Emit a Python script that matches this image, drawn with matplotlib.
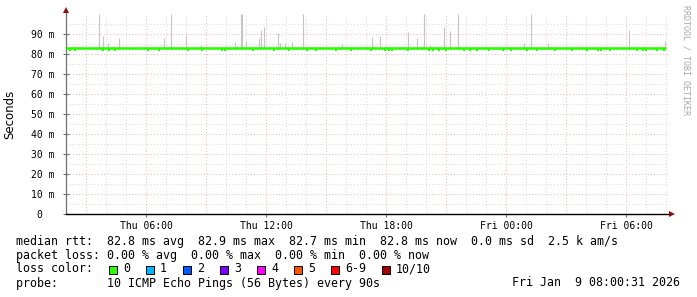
import matplotlib
matplotlib.use('Agg')
import matplotlib.pyplot as plt
from matplotlib.patches import Rectangle

# time axis: hours since Thu 02:00, window of 30 hours
start_hour = 0
end_hour = 30

# median rtt (ms)
median_rtt = 82.8

# slightly lower median samples (hours)
dip_hours = [0.2, 0.47, 1.87, 2.17, 2.47, 4.08, 4.67, 6.08, 6.78, 7.82, 7.97, 9.37,
             10.42, 11.13, 12.03, 12.48, 13.52, 14.23, 15.25, 15.95, 16.15, 16.28,
             17.12, 18.17, 18.37, 18.67, 19.0, 19.9, 20.22, 20.53, 21.17, 21.83,
             22.23, 23.07, 23.53, 24.45, 25.32, 26.03, 26.58, 26.73, 27.2, 28.57,
             28.83, 28.98, 29.53, 29.9]
dip_rtt = 82.2

# smoke: max ping per interval (ms)
spike_hours = [1.67, 1.87, 2.12, 2.67, 4.92, 5.27, 6.0, 6.75, 8.43, 8.75, 8.8,
               8.98, 9.65, 9.75, 9.9, 10.6, 10.7, 10.97, 11.32, 11.85, 13.78,
               15.32, 15.7, 16.83, 17.12, 17.57, 17.92, 18.2, 18.53, 18.9, 19.2,
               19.62, 22.92, 23.27, 24.08, 25.62, 28.17, 28.83, 29.95]
spike_tops = [100, 89, 85.5, 88, 88, 100, 89.5, 84.5, 86, 100, 100,
              86.5, 88, 92, 93.5, 90.5, 85.5, 85.5, 86, 100, 85,
              88.5, 89, 84, 91, 88, 100, 84.5, 84, 93.5, 91.5,
              100, 85.5, 100, 85.5, 84, 92, 84, 86.5]

x_tick_hours = [4, 10, 16, 22, 28]
x_tick_labels = ['Thu 06:00', 'Thu 12:00', 'Thu 18:00', 'Fri 00:00', 'Fri 06:00']
y_ticks = [0, 10, 20, 30, 40, 50, 60, 70, 80, 90]
y_tick_labels = ['0  ', '10 m', '20 m', '30 m', '40 m', '50 m', '60 m', '70 m', '80 m', '90 m']

loss_labels = ['0', '1', '2', '3', '4', '5', '6-9', '10/10']
loss_colors = ['#26ff00', '#00b8ff', '#0059ff', '#7e00ff', '#ff00ff', '#ff5500', '#ff0000', '#a10000']

W, H = 697, 297
fig = plt.figure(figsize=(W / 100, H / 100), dpi=100)
fig.patch.set_facecolor('white')


def fx(px):
    return px / W


def fy(py):
    return 1 - py / H


ax = fig.add_axes([fx(66), fy(214), 602 / W, 200 / H])
ax.set_xlim(start_hour, 30.1)
ax.set_ylim(0, 100)

# grid
grid_gray = '#dadada'
grid_red = '#efbcbc'
for h in range(start_hour + 1, end_hour + 1):
    c = grid_red if (h - 1) % 3 == 0 else grid_gray
    ax.axvline(h, color=c, lw=0.75, ls=(0, (1, 2)), zorder=1)
for v in range(5, 100, 5):
    c = grid_red if v % 10 == 0 else grid_gray
    ax.axhline(v, color=c, lw=0.75, ls=(0, (1, 2)), zorder=1)

# smoke
ax.vlines(spike_hours, median_rtt - 0.3, spike_tops, color='#c4c4c4', lw=0.8, zorder=2)

# median line
ax.plot([start_hour, end_hour], [median_rtt, median_rtt], color=loss_colors[0], lw=1.9,
        solid_capstyle='butt', zorder=3)
ax.plot(dip_hours, [dip_rtt] * len(dip_hours), 's', ms=1.5, mew=0, color=loss_colors[0], zorder=3)

# axes styling
for s in ['top', 'right']:
    ax.spines[s].set_visible(False)
ax.spines['left'].set_color('#707070')
ax.spines['left'].set_linewidth(0.9)
ax.spines['bottom'].set_color('black')
ax.spines['bottom'].set_linewidth(1.0)
ax.plot([0, 0], [1.0, 1.02], color='#707070', lw=0.9, transform=ax.transAxes, clip_on=False)
ax.plot(0, 1.02, marker='^', ms=4.5, color='#8b1010', mew=0, transform=ax.transAxes, clip_on=False)
ax.plot(1.007, 0, marker='>', ms=4.5, color='#8b1010', mew=0, transform=ax.transAxes, clip_on=False)

mono = 'DejaVu Sans Mono'
ax.set_yticks(y_ticks)
ax.set_yticklabels(y_tick_labels, family=mono, fontsize=7)
ax.set_xticks(x_tick_hours)
ax.set_xticklabels(x_tick_labels, family=mono, fontsize=7)
ax.tick_params(axis='y', direction='inout', length=4, width=0.8, color='#707070', pad=6)
ax.tick_params(axis='x', direction='out', length=2, width=0.8, color='#707070', pad=3)

fig.text(fx(10), fy(114), 'Seconds', rotation=90, ha='center', va='center',
         fontsize=8.5, family='DejaVu Sans')
fig.text(fx(686), fy(5), 'RRDTOOL / TOBI OETIKER', rotation=270, ha='center', va='top',
         fontsize=6, family=mono, color='#a8a8a8')

fs = 8.4
fig.text(fx(16), fy(241), 'median rtt:  82.8 ms avg  82.9 ms max  82.7 ms min  82.8 ms now  0.0 ms sd  2.5 k am/s',
         family=mono, fontsize=fs, va='center')
fig.text(fx(16), fy(255), 'packet loss: 0.00 % avg  0.00 % max  0.00 % min  0.00 % now',
         family=mono, fontsize=fs, va='center')
fig.text(fx(16), fy(269), 'loss color:', family=mono, fontsize=fs, va='center')
fig.text(fx(16), fy(283), 'probe:       10 ICMP Echo Pings (56 Bytes) every 90s',
         family=mono, fontsize=fs, va='center')
fig.text(fx(680), fy(283), 'Fri Jan  9 08:00:31 2026', family=mono, fontsize=fs, va='center', ha='right')

# loss colour legend
cur = 108.5
for lab, col in zip(loss_labels, loss_colors):
    fig.patches.append(Rectangle((fx(cur), fy(273.5)), 8 / W, 8 / H, transform=fig.transFigure,
                                 facecolor=col, edgecolor='black', lw=0.7))
    fig.text(fx(cur + 14.6), fy(269), lab, family=mono, fontsize=fs, va='center')
    cur += 37 + 7.02 * (len(lab) - 1)

fig.savefig('out.png', dpi=100)
